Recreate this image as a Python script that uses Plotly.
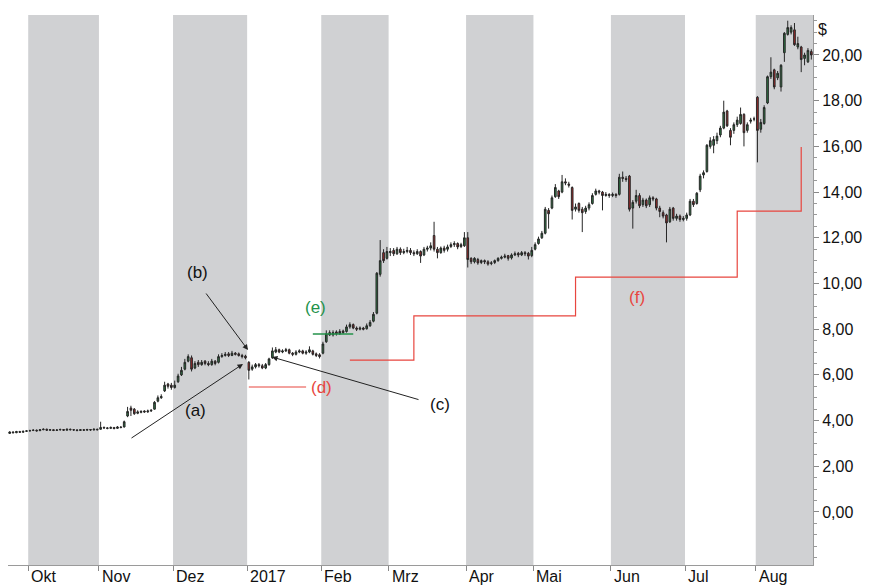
import pandas as pd
import plotly.graph_objects as go

# ===== DATA =====
# trading days (Mon-Fri) from 23 Sep 2016 to 23 Aug 2017
dates = pd.bdate_range("2016-09-23", "2017-08-23")

opens = [
    # Sep
    3.44, 3.50, 3.47, 3.52, 3.49, 3.53,
    # Oct
    3.55, 3.57, 3.58, 3.56, 3.60, 3.62, 3.58, 3.60, 3.57, 3.59, 3.61, 3.58, 3.62, 3.60, 3.59, 3.57, 3.60, 3.58, 3.61, 3.59, 3.62,
    # Nov
    3.62, 3.70, 3.68, 3.66, 3.70, 3.66, 3.72, 3.72, 4.20, 4.55, 4.50, 4.32, 4.36, 4.42, 4.38, 4.42, 4.50, 4.85, 5.00, 5.30, 5.60, 5.55,
    # Dec
    5.45, 5.70, 6.00, 6.25, 6.60, 6.75, 6.30, 6.55, 6.45, 6.60, 6.50, 6.45, 6.60, 6.55, 6.80, 6.85, 6.92, 6.85, 6.95, 6.92, 6.85, 6.82,
    # Jan
    6.55, 6.25, 6.35, 6.45, 6.40, 6.30, 6.45, 6.75, 7.00, 7.10, 7.00, 7.05, 7.10, 6.95, 6.90, 7.00, 7.05, 6.95, 7.00, 7.05, 6.92, 6.88,
    # Feb
    6.95, 7.45, 7.85, 7.75, 7.88, 7.80, 7.92, 7.90, 8.10, 8.20, 8.05, 8.00, 8.05, 8.02, 8.15, 8.35, 8.70, 10.40, 11.35, 11.10,
    # Mar
    11.35, 11.45, 11.30, 11.50, 11.35, 11.40, 11.45, 11.35, 11.30, 11.40, 11.25, 11.50, 11.55, 12.10, 11.50, 11.35, 11.55, 11.50, 11.62, 11.70, 11.75, 11.62, 11.65,
    # Apr
    12.00, 11.10, 10.95, 11.05, 10.92, 11.00, 10.95, 10.88, 10.92, 11.00, 11.10, 11.15, 11.22, 11.12, 11.25, 11.32, 11.25, 11.35, 11.32, 11.22,
    # May
    11.50, 11.75, 12.00, 12.20, 13.20, 13.30, 13.80, 14.05, 14.00, 14.45, 14.35, 14.20, 13.25, 13.50, 13.25, 13.15, 13.30, 13.50, 13.90, 14.05, 14.00, 13.85, 13.90,
    # Jun
    13.85, 13.90, 13.90, 14.65, 14.60, 14.70, 13.30, 13.60, 13.85, 13.45, 13.65, 13.45, 13.75, 13.70, 13.30, 13.10, 13.00, 12.70, 13.30, 12.85, 12.95, 12.80,
    # Jul
    12.85, 13.00, 13.60, 13.50, 14.10, 14.75, 14.90, 16.00, 16.05, 16.25, 16.50, 16.80, 17.55, 16.70, 16.70, 16.95, 17.00, 17.40, 16.70, 17.10, 17.20,
    # Aug
    18.15, 16.75, 17.00, 17.90, 19.05, 19.35, 19.00, 18.60, 20.10, 20.90, 21.00, 21.10, 20.35, 20.35, 19.85, 19.70, 20.15,
]
highs = [
    3.53, 3.53, 3.55, 3.55, 3.56, 3.58,
    3.60, 3.62, 3.61, 3.63, 3.66, 3.65, 3.63, 3.62, 3.62, 3.65, 3.63, 3.65, 3.65, 3.63, 3.62, 3.63, 3.62, 3.64, 3.63, 3.66, 3.65,
    3.95, 3.74, 3.72, 3.74, 3.72, 3.76, 3.75, 4.00, 4.60, 4.65, 4.55, 4.45, 4.45, 4.45, 4.48, 4.50, 4.85, 5.10, 5.15, 5.70, 5.65, 5.65,
    5.75, 6.05, 6.35, 6.70, 6.90, 6.85, 6.60, 6.65, 6.65, 6.65, 6.60, 6.70, 6.65, 6.90, 6.95, 7.00, 7.00, 7.05, 7.00, 6.98, 6.92, 6.88,
    6.60, 6.45, 6.52, 6.52, 6.48, 6.52, 6.75, 7.20, 7.22, 7.15, 7.12, 7.18, 7.15, 7.00, 7.08, 7.12, 7.10, 7.08, 7.25, 7.10, 6.98, 6.95,
    7.45, 7.95, 7.95, 7.95, 7.95, 8.00, 7.98, 8.20, 8.30, 8.25, 8.12, 8.12, 8.10, 8.25, 8.40, 8.75, 10.50, 11.90, 11.50, 11.60,
    11.55, 11.55, 11.60, 11.58, 11.52, 11.60, 11.55, 11.45, 11.50, 11.45, 11.60, 11.65, 11.80, 12.70, 11.60, 11.62, 11.65, 11.70, 11.80, 11.85, 11.80, 11.78, 12.25,
    12.25, 11.15, 11.15, 11.12, 11.05, 11.05, 11.02, 10.98, 11.05, 11.15, 11.22, 11.30, 11.25, 11.32, 11.40, 11.38, 11.42, 11.42, 11.38, 11.60,
    11.80, 12.05, 12.30, 13.35, 13.30, 13.85, 14.35, 14.10, 14.75, 14.60, 14.45, 14.25, 13.50, 13.55, 13.35, 13.40, 13.55, 13.95, 14.15, 14.10, 14.05, 14.00, 13.95,
    13.98, 13.95, 14.80, 14.90, 14.70, 14.75, 13.65, 14.10, 13.95, 13.75, 13.72, 13.85, 13.82, 13.75, 13.40, 13.20, 13.05, 13.35, 13.35, 13.05, 13.02, 12.95,
    13.10, 13.70, 13.70, 14.00, 14.80, 14.95, 16.10, 16.40, 16.45, 16.60, 16.90, 18.00, 17.60, 16.80, 17.05, 17.30, 17.70, 17.45, 17.05, 17.25, 17.30,
    18.20, 17.20, 17.80, 19.10, 19.90, 19.40, 19.30, 19.60, 21.00, 21.50, 21.30, 21.40, 20.80, 20.40, 20.10, 20.30, 20.25,
]
lows = [
    3.42, 3.44, 3.45, 3.46, 3.47, 3.50,
    3.52, 3.54, 3.52, 3.54, 3.58, 3.55, 3.56, 3.54, 3.55, 3.57, 3.55, 3.56, 3.57, 3.55, 3.53, 3.55, 3.55, 3.56, 3.55, 3.57, 3.57,
    3.60, 3.64, 3.62, 3.63, 3.62, 3.64, 3.66, 3.70, 4.15, 4.20, 4.25, 4.28, 4.32, 4.34, 4.34, 4.38, 4.48, 4.80, 4.95, 5.25, 5.40, 5.35,
    5.40, 5.65, 5.95, 6.20, 6.55, 6.15, 6.25, 6.35, 6.40, 6.42, 6.38, 6.40, 6.42, 6.50, 6.75, 6.80, 6.78, 6.82, 6.85, 6.80, 6.72, 6.68,
    5.80, 6.18, 6.28, 6.32, 6.25, 6.25, 6.40, 6.70, 6.95, 6.95, 6.95, 7.00, 6.90, 6.82, 6.85, 6.95, 6.90, 6.88, 6.95, 6.85, 6.78, 6.72,
    6.90, 7.40, 7.70, 7.68, 7.72, 7.75, 7.80, 7.85, 8.02, 8.00, 7.92, 7.95, 7.95, 7.98, 8.10, 8.30, 8.65, 10.30, 10.90, 11.05,
    11.20, 11.20, 11.25, 11.25, 11.28, 11.32, 11.25, 11.20, 11.25, 10.90, 11.20, 11.40, 11.45, 11.40, 11.10, 11.30, 11.35, 11.40, 11.55, 11.60, 11.50, 11.55, 11.60,
    10.70, 10.85, 10.88, 10.82, 10.85, 10.85, 10.78, 10.80, 10.85, 10.95, 11.05, 11.10, 11.00, 11.05, 11.20, 11.15, 11.20, 11.20, 11.05, 11.15,
    11.45, 11.70, 11.95, 12.15, 12.40, 13.25, 13.75, 13.70, 13.95, 14.30, 14.20, 12.80, 13.15, 13.10, 12.25, 13.05, 13.20, 13.45, 13.85, 13.90, 13.20, 13.80, 13.75,
    13.78, 13.75, 13.85, 14.45, 14.45, 13.15, 12.40, 13.50, 13.30, 13.35, 13.30, 13.35, 13.60, 13.20, 12.90, 12.85, 11.80, 12.65, 12.75, 12.75, 12.70, 12.72,
    12.75, 12.95, 13.35, 13.45, 14.00, 14.60, 14.85, 15.90, 15.70, 16.10, 16.40, 16.75, 16.85, 16.05, 16.55, 16.85, 16.95, 16.00, 16.60, 17.00, 17.10,
    15.30, 16.60, 16.95, 17.85, 18.95, 18.50, 18.90, 18.40, 19.70, 20.85, 20.90, 20.40, 20.25, 19.25, 19.55, 19.65, 19.80,
]
closes = [
    3.50, 3.47, 3.52, 3.49, 3.53, 3.55,
    3.56, 3.58, 3.55, 3.60, 3.62, 3.58, 3.60, 3.57, 3.59, 3.61, 3.58, 3.62, 3.60, 3.59, 3.57, 3.60, 3.58, 3.61, 3.59, 3.62, 3.60,
    3.70, 3.68, 3.66, 3.70, 3.65, 3.72, 3.70, 3.95, 4.40, 4.45, 4.30, 4.38, 4.40, 4.38, 4.42, 4.45, 4.80, 5.00, 5.05, 5.55, 5.50, 5.45,
    5.55, 5.95, 6.20, 6.55, 6.80, 6.25, 6.50, 6.45, 6.55, 6.50, 6.45, 6.60, 6.50, 6.80, 6.85, 6.90, 6.85, 6.95, 6.90, 6.85, 6.80, 6.75,
    6.20, 6.35, 6.45, 6.40, 6.30, 6.45, 6.70, 7.05, 7.10, 7.00, 7.05, 7.10, 6.95, 6.90, 7.00, 7.05, 6.95, 7.00, 7.10, 6.90, 6.85, 6.80,
    7.35, 7.80, 7.75, 7.85, 7.80, 7.90, 7.85, 8.10, 8.20, 8.05, 8.00, 8.05, 8.00, 8.15, 8.30, 8.65, 10.45, 11.00, 11.00, 11.40,
    11.40, 11.30, 11.50, 11.35, 11.40, 11.45, 11.35, 11.30, 11.40, 11.20, 11.50, 11.55, 11.65, 11.50, 11.35, 11.55, 11.45, 11.60, 11.70, 11.75, 11.60, 11.70, 12.00,
    11.05, 10.95, 11.10, 10.90, 11.00, 10.95, 10.85, 10.90, 11.00, 11.10, 11.15, 11.20, 11.10, 11.25, 11.30, 11.25, 11.35, 11.30, 11.20, 11.45,
    11.70, 11.95, 12.20, 13.25, 13.05, 13.75, 14.20, 13.80, 14.45, 14.40, 14.30, 13.20, 13.35, 13.20, 13.10, 13.30, 13.45, 13.85, 14.05, 14.00, 13.85, 13.90, 13.85,
    13.90, 13.85, 14.65, 14.60, 14.55, 13.25, 13.55, 13.85, 13.40, 13.65, 13.40, 13.75, 13.70, 13.30, 13.15, 12.95, 12.65, 13.25, 12.85, 12.95, 12.80, 12.85,
    13.00, 13.60, 13.45, 13.95, 14.70, 14.85, 16.05, 16.25, 16.30, 16.45, 16.80, 17.50, 16.90, 16.40, 16.95, 17.15, 17.40, 16.60, 16.95, 17.15, 17.20,
    16.70, 17.05, 17.70, 19.05, 19.25, 18.60, 19.20, 19.55, 20.95, 21.20, 21.20, 20.45, 20.50, 19.80, 20.00, 20.20, 20.00,
]

# red step line (f) and the two short marker lines (d), (e)
step_dates = ["2017-02-13", "2017-03-10", "2017-05-17", "2017-07-24", "2017-08-18"]
step_levels = [6.65, 8.58, 10.28, 13.17, 15.97]
d_dates = ["2017-01-02", "2017-01-25"]
d_level = 5.47
e_dates = ["2017-01-27", "2017-02-14"]
e_level = 7.79

# month boundaries (midway between last and first trading day) and labels
month_edges = ["2016-09-30 12:00", "2016-10-31 12:00", "2016-11-30 12:00", "2016-12-30 12:00",
               "2017-01-31 12:00", "2017-02-28 12:00", "2017-03-31 12:00", "2017-04-28 12:00",
               "2017-05-31 12:00", "2017-06-30 12:00", "2017-07-31 12:00"]
month_labels = ["Okt", "Nov", "Dez", "2017", "Feb", "Mrz", "Apr", "Mai", "Jun", "Jul", "Aug"]
x_start, x_end = "2016-09-22 12:00", "2017-08-23 12:00"
y_ticks = [0, 2, 4, 6, 8, 10, 12, 14, 16, 18, 20]

FONT = "Arial, Liberation Sans, sans-serif"
RED = "#e8463f"
GREEN = "#23924a"

# the page body adds an 8px offset, so the figure is 8px smaller
OFF = 8
W, H = 876 - OFF, 585 - OFF
# plot area in window pixels (used to place the text notes)
L, R, T, B = 8, 813, 15, 565


def px(x):
    return (x - L) / (R - L)


def py(y):
    return (B - y) / (B - T)


fig = go.Figure()

# grey month bands (every second month)
band_ends = month_edges[1:] + [x_end]
for i in range(0, len(month_edges), 2):
    fig.add_vrect(x0=month_edges[i], x1=band_ends[i], fillcolor="#d0d1d3",
                  line_width=0, layer="below")

fig.add_trace(go.Candlestick(
    x=dates, open=opens, high=highs, low=lows, close=closes,
    increasing=dict(line=dict(color="#262626", width=1), fillcolor="#2f7a45"),
    decreasing=dict(line=dict(color="#262626", width=1), fillcolor="#a82a2a"),
    whiskerwidth=0, showlegend=False,
))

fig.add_trace(go.Scatter(x=step_dates, y=step_levels, mode="lines", line_shape="hv",
                         line=dict(color=RED, width=1.2), showlegend=False))
fig.add_trace(go.Scatter(x=d_dates, y=[d_level] * len(d_dates), mode="lines",
                         line=dict(color=RED, width=1.2), showlegend=False))
fig.add_trace(go.Scatter(x=e_dates, y=[e_level] * len(e_dates), mode="lines",
                         line=dict(color=GREEN, width=1.5), showlegend=False))

# month labels, left-aligned next to their tick
for edge, lab in zip(month_edges, month_labels):
    fig.add_annotation(x=edge, y=0, xref="x", yref="paper", text=lab, showarrow=False,
                       xanchor="left", yanchor="top", xshift=1, yshift=-1,
                       font=dict(family=FONT, size=16, color="#111"))

# text notes
notes = [("(a)", 195, 410, "#111"), ("(b)", 197, 272, "#111"), ("(c)", 440, 404, "#111"),
         ("(d)", 321, 387, RED), ("(e)", 315, 307, GREEN), ("(f)", 637, 297, RED)]
for txt, x, y, col in notes:
    fig.add_annotation(x=px(x), y=py(y), xref="paper", yref="paper", text=txt,
                       showarrow=False, xanchor="center", yanchor="middle",
                       font=dict(family=FONT, size=17, color=col))

# arrows: (tip x, tip y, tail x, tail y) in pixels
arrows = [(243, 364, 130, 439), (248, 350, 205, 292), (272, 357, 420, 400)]
for tx, ty, sx, sy in arrows:
    fig.add_annotation(x=px(tx), y=py(ty), xref="paper", yref="paper", text="",
                       showarrow=True, ax=sx - tx, ay=sy - ty, arrowhead=2,
                       arrowsize=1.1, arrowwidth=1, arrowcolor="#222", standoff=0)

fig.add_annotation(x=1, y=py(30), xref="paper", yref="paper", text="$", showarrow=False,
                   xanchor="left", yanchor="middle", xshift=3,
                   font=dict(family=FONT, size=16, color="#111"))

fig.update_xaxes(type="date", range=[x_start, x_end],
                 rangebreaks=[dict(bounds=["sat", "mon"])],
                 rangeslider_visible=False, showgrid=False, zeroline=False,
                 tickmode="array", tickvals=month_edges, showticklabels=False,
                 ticks="outside", ticklen=5, tickcolor="#888",
                 showline=True, linecolor="#9a9a9a", linewidth=1)
fig.update_yaxes(side="right", range=[-2.32, 21.75], showgrid=False, zeroline=False,
                 tickmode="array", tickvals=y_ticks, tickformat=".2f",
                 ticks="outside", ticklen=5, tickcolor="#888",
                 minor=dict(tickmode="linear", tick0=0, dtick=0.5, ticks="outside",
                            ticklen=3, tickcolor="#999"),
                 showline=True, linecolor="#9a9a9a", linewidth=1,
                 tickfont=dict(family=FONT, size=16, color="#111"))

fig.update_layout(
    width=W, height=H,
    margin=dict(l=L - OFF, r=876 - R, t=T - OFF, b=585 - B),
    separators=",.",
    plot_bgcolor="white", paper_bgcolor="white",
    showlegend=False,
)

fig.write_html("out.html")
